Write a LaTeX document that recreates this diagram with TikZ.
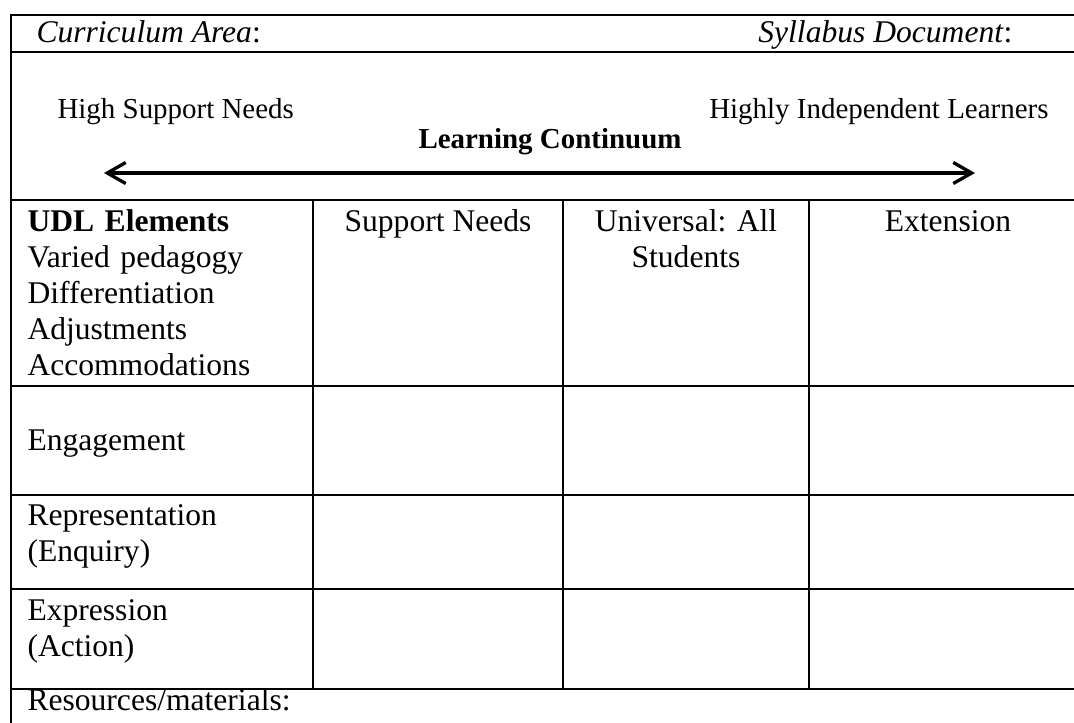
\documentclass[tikz,border=0pt]{standalone}
\usepackage{fontspec}
\setmainfont{Liberation Serif}
\frenchspacing
\usetikzlibrary{positioning,arrows.meta}
\tikzset{
  grid line/.style={line width=0.6pt, line cap=rect},
  cell text/.style={inner sep=0pt, anchor=base west, font=\fontsize{12pt}{13.7pt}\selectfont},
  cell mid/.style={inner sep=0pt, anchor=base, align=center, font=\fontsize{12pt}{13.7pt}\selectfont},
  scale text/.style={inner sep=0pt, font=\fontsize{11pt}{13pt}\selectfont},
  continuum/.style={line width=1.25pt, {Straight Barb[length=7pt,width=8pt]}-{Straight Barb[length=7pt,width=8pt]}}
}

\begin{document}
\begin{tikzpicture}[x=0.38pt,y=-0.38pt]
	\useasboundingbox (0,0) rectangle (1074,722);
	\clip (0,0) rectangle (1074,722);
	% table rules
	\foreach \y in {15,52,200,386,495,589,689}
		\draw[grid line] (11,\y) -- (1090,\y);
	\draw[grid line] (11,15) -- (11,730);
	\foreach \x in {313,563,809}
		\draw[grid line] (\x,200) -- (\x,689);
	% header rows
	\node[cell text] (area) at (36,42) {\textit{Curriculum Area}:};
	\node[cell text, anchor=base east] (syllabus) at (1013,42) {\textit{Syllabus Document}:};
	\node[scale text, anchor=base west] (high) at (57,118) {High Support Needs};
	\node[scale text, anchor=base east] (indep) at (1049,118) {Highly Independent Learners};
	\node[scale text, anchor=base, font=\fontsize{11pt}{13pt}\selectfont\bfseries] (continuum) at (550,148) {Learning Continuum};
	\coordinate (lc west) at (104,173);
	\coordinate (lc east) at (975,173);
	\draw[continuum] (lc west) -- (lc east);
	% column heads
	\node[cell text, text width=100pt, align=left] (udl) at (27,231) {\textbf{UDL Elements}\\Varied pedagogy\\Differentiation\\Adjustments\\Accommodations};
	\node[cell mid] (support) at (438,231) {Support Needs};
	\node[cell mid, text width=90pt] (universal) at (686,231) {Universal: All\\Students};
	\node[cell mid] (extension) at (948,231) {Extension};
	% row heads
	\node[cell text] (engage) at (27,450) {Engagement};
	\node[cell text, text width=100pt, align=left] (repr) at (27,525) {Representation\\(Enquiry)};
	\node[cell text, text width=100pt, align=left] (expr) at (27,620) {Expression\\(Action)};
	\node[cell text] (resources) at (27,710) {Resources/materials:};
\end{tikzpicture}
\end{document}
